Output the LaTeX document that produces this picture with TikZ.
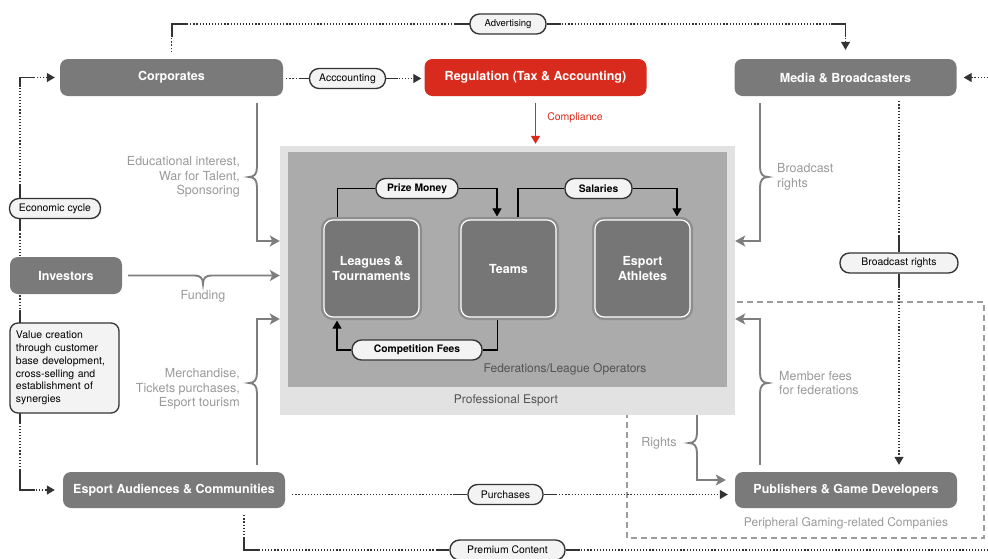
\documentclass[tikz,border=0pt]{standalone}
\usepackage{fontspec}
\setmainfont{TeX Gyre Heros}
\usetikzlibrary{arrows.meta,calc}
\definecolor{nodegray}{HTML}{7A7A7A}
\definecolor{regred}{HTML}{D92B1D}
\definecolor{pelight}{HTML}{E2E2E2}
\definecolor{fedgray}{HTML}{ABABAB}
\definecolor{labgray}{HTML}{999999}
\definecolor{linegray}{HTML}{7E7E7E}
\definecolor{pillfill}{HTML}{F3F3F3}
\definecolor{darkline}{HTML}{333333}
\definecolor{innergray}{HTML}{767676}
\definecolor{inneredge}{HTML}{8D8D8D}
\definecolor{dashgray}{HTML}{9C9C9C}
\pgfdeclarelayer{back}
\pgfdeclarelayer{mid}
\pgfsetlayers{back,mid,main}
\tikzset{
  bigbox/.style={rectangle, rounded corners=8pt, fill=nodegray, text=white,
    font=\fontsize{12.5}{15}\selectfont\bfseries, inner sep=0pt},
  redbox/.style={bigbox, fill=regred},
  innerbox/.style={rectangle, rounded corners=9pt, fill=innergray, draw=white, line width=1.2pt,
    preaction={draw=inneredge, line width=6pt},
    minimum width=95pt, minimum height=97pt, text=white, align=center,
    font=\fontsize{12.5}{15.5}\selectfont\bfseries, inner sep=0pt},
  pill/.style={rectangle, rounded corners=9.5pt, draw=darkline, line width=1.35pt, fill=pillfill,
    minimum height=20pt, inner sep=0pt, font=\fontsize{10.4}{12}\selectfont},
  ipill/.style={pill, font=\fontsize{10.3}{12}\selectfont\bfseries},
  valbox/.style={rectangle, rounded corners=8pt, draw=darkline, line width=1.3pt, fill=pillfill,
    minimum width=109pt, minimum height=90pt, text width=97pt, align=left,
    font=\fontsize{10.5}{12.8}\selectfont, inner sep=0pt},
  dotl/.style={draw=darkline, line width=1.2pt, dash pattern=on 1.2pt off 1.9pt},
  solidl/.style={draw=darkline, line width=1.3pt},
  tri/.style={-{Triangle[length=8pt,width=9pt]}},
  iline/.style={draw=black, line width=1.1pt},
  itri/.style={-{Triangle[length=8pt,width=9pt]}},
  garr/.style={draw=linegray, line width=1.9pt, -{Stealth[length=10pt,width=11pt,inset=2.5pt]}},
  glab/.style={text=labgray, font=\fontsize{12.5}{14.5}\selectfont, inner sep=0pt},
  blab/.style={text=darkline!85, font=\fontsize{12}{14.5}\selectfont, inner sep=0pt},
  pebox/.style={rectangle, fill=pelight, inner sep=0pt},
  fedbox/.style={rectangle, fill=fedgray, inner sep=0pt},
  perim/.style={draw=dashgray, line width=1.2pt, dash pattern=on 6pt off 4pt}
}
\begin{document}
\begin{tikzpicture}[x=1pt,y=-1pt]
\useasboundingbox (0,0) rectangle (988,558);

% background areas
\begin{pgfonlayer}{back}
  \draw[perim] (627,302) rectangle (984,538);
  \node[pebox, minimum width=455pt, minimum height=269pt] (pe) at (507.5,280.5) {};
  \node[fedbox, minimum width=439pt, minimum height=235pt] (fed) at (507.5,269.5) {};
\end{pgfonlayer}

% main nodes
\node[bigbox, minimum width=223pt, minimum height=37pt] (corp) at (171.5,77.5) {Corporates};
\node[redbox, minimum width=222pt, minimum height=37pt] (reg) at (535.5,77.5) {Regulation (Tax \& Accounting)};
\node[bigbox, minimum width=222pt, minimum height=37pt] (media) at (845.5,77.5) {Media \& Broadcasters};
\node[bigbox, minimum width=112pt, minimum height=37pt] (inv) at (66,275.5) {Investors};
\node[bigbox, minimum width=222pt, minimum height=36pt] (aud) at (174,490) {Esport Audiences \& Communities};
\node[bigbox, minimum width=222pt, minimum height=36pt] (pub) at (846,490) {Publishers \& Game Developers};

\node[innerbox] (leag) at (371.5,268.5) {Leagues \&\\Tournaments};
\node[innerbox] (team) at (508.5,268.5) {Teams};
\node[innerbox] (ath) at (642.5,268.5) {Esport\\Athletes};

\node[blab] (fedlab) at (565,369) {Federations/League Operators};
\node[blab] (pelab) at (506,400) {Professional Esport};

% pills
\node[pill, minimum width=76pt, font=\fontsize{9.5}{11}\selectfont] (adv) at (508,24) {Advertising};
\node[pill, minimum width=76pt] (acc) at (347.5,78.5) {Acccounting};
\node[pill, minimum width=91pt] (econ) at (55,208.5) {Economic cycle};
\node[pill, minimum width=118pt] (brr) at (899,263) {Broadcast rights};
\node[pill, minimum width=75pt] (pur) at (505.5,494.5) {Purchases};
\node[pill, minimum width=115pt] (prem) at (507.5,550) {Premium Content};
\node[ipill, minimum width=82pt] (prize) at (417,188.5) {Prize Money};
\node[ipill, minimum width=67pt] (sal) at (598.5,188.5) {Salaries};
\node[ipill, minimum width=130pt] (fees) at (417,350) {Competition Fees};

\node[valbox] (val) at (64.5,368) {Value creation\\through customer\\base development,\\cross-selling and\\establishment of\\synergies};

% gray labels
\node[glab, align=right, anchor=east] (edu) at (240,177) {Educational interest,\\War for Talent,\\Sponsoring};
\node[glab] (fund) at (203,296) {Funding};
\node[glab, align=right, anchor=east] (merch) at (240,389) {Merchandise,\\Tickets purchases,\\Esport tourism};
\node[glab, align=left, anchor=west] (bcl) at (777,177) {Broadcast\\rights};
\node[glab, align=left, anchor=west] (mfl) at (779,383) {Member fees\\for federations};
\node[glab] (rightsl) at (659,443) {Rights};
\node[glab, font=\fontsize{12}{14}\selectfont] (peril) at (846,523) {Peripheral Gaming-related Companies};
\node[text=regred, font=\fontsize{10.5}{12}\selectfont, inner sep=0pt] (compl) at (575,118) {Compliance};

\coordinate (lft) at (20,300);
\coordinate (rE) at (988,77.5);
\coordinate (rB) at (988,550);
\coordinate (cA) at (257,241);
\coordinate (cB) at (257,319);
\coordinate (cC) at (760,241);
\coordinate (cD) at (760,319);

\begin{pgfonlayer}{mid}
  % Advertising
  \draw[dotl, shorten <=7pt] (corp.north) |- (adv.west);
  \draw[dotl, tri, shorten >=9pt] (adv.east) -| (media.north);
  \draw[solidl] (172,37) -- (172,24) -- (187,24);
  \draw[solidl] ([xshift=-15pt]adv.west) -- (adv.west);
  \draw[solidl] (adv.east) -- ([xshift=14pt]adv.east);
  \draw[solidl] (831,24) -- (845.5,24) -- (845.5,37);
  % Accounting
  \draw[dotl, shorten <=3pt] (corp.east |- acc.west) -- (acc.west);
  \draw[dotl, tri, shorten >=3pt] (acc.east) -- (acc.east -| reg.west);
  \draw[solidl] ([xshift=-10pt]acc.west) -- (acc.west);
  \draw[solidl] (acc.east) -- ([xshift=12pt]acc.east);
  % Compliance
  \draw[draw=regred, line width=1.5pt, -{Triangle[length=8pt,width=9pt]}, shorten <=7pt, shorten >=2pt]
    (reg.south) -- (reg.south |- pe.north);
  % left loop
  \draw[dotl, {Triangle[length=8pt,width=9pt]}-{Triangle[length=8pt,width=9pt]}, shorten <=5pt, shorten >=8pt]
    (corp.west) -| (lft) |- (aud.west);
  \draw[solidl] (34,77.5) -- (20,77.5) -- (20,87);
  \draw[solidl] (20,184) -- (20,230);
  \draw[solidl] (20,310) -- (20,323);
  \draw[solidl] (20,413) -- (20,424);
  \draw[solidl] (20,470) -- (20,490) -- (35,490);
  % Corporates -> Professional Esport
  \draw[garr] ([xshift=85.5pt,yshift=-7pt]corp.south) -- (257,167)
    .. controls (257,174) and (254,177) .. (249,177)
    .. controls (254,177) and (257,180) .. (257,187) -- (cA) -- (cA -| pe.west);
  % Investors -> Professional Esport
  \draw[garr, shorten <=6pt] (inv.east) -- (195,275.5)
    .. controls (200,275.5) and (203,278) .. (203,284)
    .. controls (203,278) and (206,275.5) .. (211,275.5) -- (inv.east -| pe.west);
  % Audiences -> Professional Esport
  \draw[garr] ([xshift=83pt,yshift=7pt]aud.north) -- (257,393)
    .. controls (257,386) and (254,383) .. (249,383)
    .. controls (254,383) and (257,380) .. (257,373) -- (cB) -- (cB -| pe.west);
  % Media -> Professional Esport
  \draw[garr] ([xshift=-85.5pt,yshift=-7pt]media.south) -- (760,167)
    .. controls (760,174) and (763,177) .. (768,177)
    .. controls (763,177) and (760,180) .. (760,187) -- (cC) -- (cC -| pe.east);
  % Publishers -> Professional Esport
  \draw[garr] ([xshift=-86pt,yshift=7pt]pub.north) -- (760,393)
    .. controls (760,386) and (763,383) .. (768,383)
    .. controls (763,383) and (760,380) .. (760,373) -- (cD) -- (cD -| pe.east);
  % Rights
  \draw[garr, shorten >=9pt] ([xshift=189.5pt]pe.south) -- (697,433)
    .. controls (697,440) and (694,443) .. (689,443)
    .. controls (694,443) and (697,446) .. (697,453) -- (697,480) -- ([yshift=10pt]pub.west);
  % Media -> Broadcast rights -> Publishers
  \draw[dotl, shorten <=5pt] (brr.north |- media.south) -- (brr.north);
  \draw[dotl, tri, shorten >=7pt] (brr.south) -- (brr.south |- pub.north);
  \draw[solidl] ([yshift=16pt]brr.north) -- (brr.north);
  \draw[solidl] (brr.south) -- ([yshift=-14pt]brr.south);
  % right edge -> Media
  \draw[dotl, tri, shorten >=7pt] (rE) -- (media.east);
  % Purchases
  \draw[dotl, shorten <=7pt] (aud.east |- pur.west) -- (pur.west);
  \draw[dotl, tri, shorten >=7pt] (pur.east) -- (pur.east -| pub.west);
  \draw[solidl] ([xshift=-12pt]pur.west) -- (pur.west);
  \draw[solidl] (pur.east) -- ([xshift=13pt]pur.east);
  % Premium Content
  \draw[dotl, shorten <=7pt] ([xshift=70pt]aud.south) |- (prem.west);
  \draw[dotl] (prem.east) -- (prem.east -| rB);
  \draw[solidl] (244,537) -- (244,550) -- (259,550);
  \draw[solidl] ([xshift=-12pt]prem.west) -- (prem.west);
  \draw[solidl] (prem.east) -- ([xshift=14pt]prem.east);
  % inner connectors
  \draw[iline] ([xshift=-34pt]leag.north) |- (prize.west);
  \draw[iline, itri, shorten >=3pt] (prize.east) -| ([xshift=-11.5pt]team.north);
  \draw[iline] ([xshift=9.5pt]team.north) |- (sal.west);
  \draw[iline, itri, shorten >=3pt] (sal.east) -| ([xshift=34.5pt]ath.north);
  \draw[iline] ([xshift=-11pt]team.south) |- (fees.east);
  \draw[iline, itri, shorten >=3pt] (fees.west) -| ([xshift=-34.5pt]leag.south);
\end{pgfonlayer}
\end{tikzpicture}
\end{document}
